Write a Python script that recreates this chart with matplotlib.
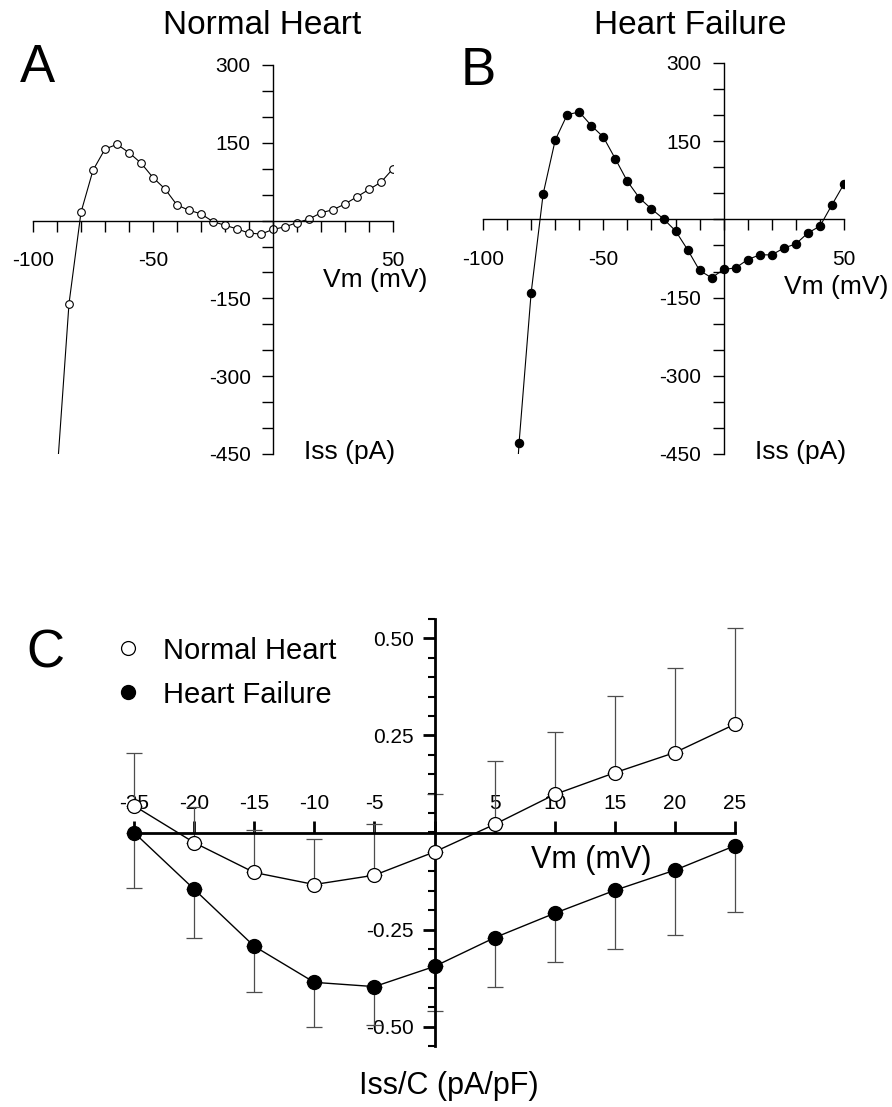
import matplotlib
matplotlib.use("Agg")
import matplotlib.pyplot as plt
from matplotlib.lines import Line2D
import numpy as np

plt.rcParams['font.family'] = ['Liberation Sans', 'DejaVu Sans']

# Panel A - normal heart, steady-state current (pA)
vm_ab = [-90, -85, -80, -75, -70, -65, -60, -55, -50, -45, -40, -35, -30, -25, -20,
         -15, -10, -5, 0, 5, 10, 15, 20, 25, 30, 35, 40, 45, 50]
iss_normal = [-490, -160, 16, 97, 138, 147, 131, 111, 83, 61, 30, 20, 13, -2, -9,
              -16, -24, -26, -17, -12, -4, 3, 15, 21, 32, 46, 60, 74, 100]
# Panel B - heart failure
iss_failure = [-800, -428, -141, 49, 152, 201, 206, 180, 158, 116, 73, 41, 20, 1, -22,
               -58, -98, -112, -96, -93, -77, -68, -68, -55, -47, -26, -13, 28, 68]

# Panel C - current density (pA/pF), mean and one-sided error
vm_c = [-25, -20, -15, -10, -5, 0, 5, 10, 15, 20, 25]
dens_normal = [0.069, -0.026, -0.103, -0.134, -0.110, -0.050, 0.021, 0.098, 0.154, 0.206, 0.279]
err_normal = [0.136, 0.091, 0.109, 0.117, 0.133, 0.150, 0.164, 0.161, 0.197, 0.218, 0.249]
dens_failure = [0.0, -0.146, -0.293, -0.386, -0.397, -0.345, -0.271, -0.208, -0.149, -0.097, -0.034]
err_failure = [0.142, 0.127, 0.118, 0.114, 0.100, 0.114, 0.126, 0.126, 0.150, 0.166, 0.170]

W, H = 892, 1107


def fx(px):
    return px / W


def fy(py):
    return 1 - py / H


def cross_axes(ax, lw):
    ax.spines['left'].set_position(('data', 0))
    ax.spines['bottom'].set_position(('data', 0))
    ax.spines['top'].set_visible(False)
    ax.spines['right'].set_visible(False)
    ax.spines['left'].set_linewidth(lw)
    ax.spines['bottom'].set_linewidth(lw)
    ax.patch.set_alpha(0)


def iv_panel(rect, y, filled):
    ax = fig.add_axes(rect)
    cross_axes(ax, 1.0)
    ax.plot(vm_ab, y, color='black', lw=0.8, marker='o',
            ms=6 if filled else 5.5, mfc='black' if filled else 'white',
            mec='black', mew=0.8)
    ax.set_xlim(-100, 50)
    ax.set_ylim(-450, 300)
    ax.set_xticks(np.arange(-100, 51, 10))
    ax.set_xticklabels(['-100' if v == -100 else '-50' if v == -50 else '50' if v == 50 else ''
                        for v in range(-100, 51, 10)])
    ax.set_yticks(np.arange(-450, 301, 50))
    ax.set_yticklabels([str(v) if v in (300, 150, -150, -300, -450) else ''
                        for v in range(-450, 301, 50)])
    ax.tick_params(axis='x', direction='out', length=8, width=1, labelsize=15, pad=14)
    ax.tick_params(axis='y', direction='out', length=8, width=1, labelsize=15, pad=8)
    return ax


fig = plt.figure(figsize=(W / 100, H / 100), dpi=100)

axA = iv_panel([fx(33), fy(454), fx(393) - fx(33), fy(65) - fy(454)], iss_normal, False)
axB = iv_panel([fx(483), fy(454), fx(844) - fx(483), fy(63) - fy(454)], iss_failure, True)

# Panel C
axC = fig.add_axes([fx(134), fy(1046), fx(735) - fx(134), fy(619) - fy(1046)])
cross_axes(axC, 2.0)
axC.errorbar(vm_c, dens_normal, yerr=[np.zeros(len(vm_c)), err_normal], fmt='none',
             ecolor='0.3', elinewidth=0.9, capsize=6, capthick=0.9, clip_on=False, zorder=2)
axC.errorbar(vm_c, dens_failure, yerr=[err_failure, np.zeros(len(vm_c))], fmt='none',
             ecolor='0.3', elinewidth=0.9, capsize=6, capthick=0.9, clip_on=False, zorder=2)
axC.plot(vm_c, dens_normal, color='black', lw=1, marker='o', ms=10, mfc='white',
         mec='black', mew=0.9, clip_on=False, zorder=3)
axC.plot(vm_c, dens_failure, color='black', lw=1, marker='o', ms=10, mfc='black',
         mec='black', clip_on=False, zorder=3)
axC.set_xlim(-25, 25)
axC.set_ylim(-0.55, 0.55)
axC.set_xticks(vm_c)
axC.set_xticklabels(['' if v == 0 else str(v) for v in vm_c])
axC.set_yticks([-0.5, -0.25, 0.25, 0.5])
axC.set_yticklabels(['-0.50', '-0.25', '0.25', '0.50'])
axC.set_yticks(np.arange(-0.55, 0.551, 0.05), minor=True)
axC.tick_params(axis='x', direction='in', length=9, width=2, labelsize=15, pad=-28)
axC.tick_params(axis='y', which='major', direction='out', length=9, width=2, labelsize=15, pad=6)
axC.tick_params(axis='y', which='minor', direction='out', length=5, width=1.5)

handles = [Line2D([], [], ls='none', marker='o', ms=10, mfc='white', mec='black', mew=0.9),
           Line2D([], [], ls='none', marker='o', ms=10, mfc='black', mec='black')]
fig.legend(handles, ['Normal Heart', 'Heart Failure'], loc='upper left',
           bbox_to_anchor=(fx(99), fy(622)), frameon=False, fontsize=21,
           handlelength=1.0, handletextpad=0.7, labelspacing=0.55, borderpad=0)

# titles, panel letters, axis labels
fig.text(fx(262), fy(25), 'Normal Heart', ha='center', va='center', fontsize=24)
fig.text(fx(690), fy(25), 'Heart Failure', ha='center', va='center', fontsize=24)
fig.text(fx(20), fy(82), 'A', ha='left', va='baseline', fontsize=38)
fig.text(fx(461), fy(85), 'B', ha='left', va='baseline', fontsize=38)
fig.text(fx(26), fy(667), 'C', ha='left', va='baseline', fontsize=38)

fig.text(fx(375), fy(280), 'Vm (mV)', ha='center', va='center', fontsize=19)
fig.text(fx(304), fy(452), 'Iss (pA)', ha='left', va='center', fontsize=19)
fig.text(fx(836), fy(287), 'Vm (mV)', ha='center', va='center', fontsize=19)
fig.text(fx(755), fy(452), 'Iss (pA)', ha='left', va='center', fontsize=19)
fig.text(fx(591), fy(860), 'Vm (mV)', ha='center', va='center', fontsize=22)
fig.text(fx(449), fy(1086), 'Iss/C (pA/pF)', ha='center', va='center', fontsize=22)

fig.savefig('out.png', dpi=100)
